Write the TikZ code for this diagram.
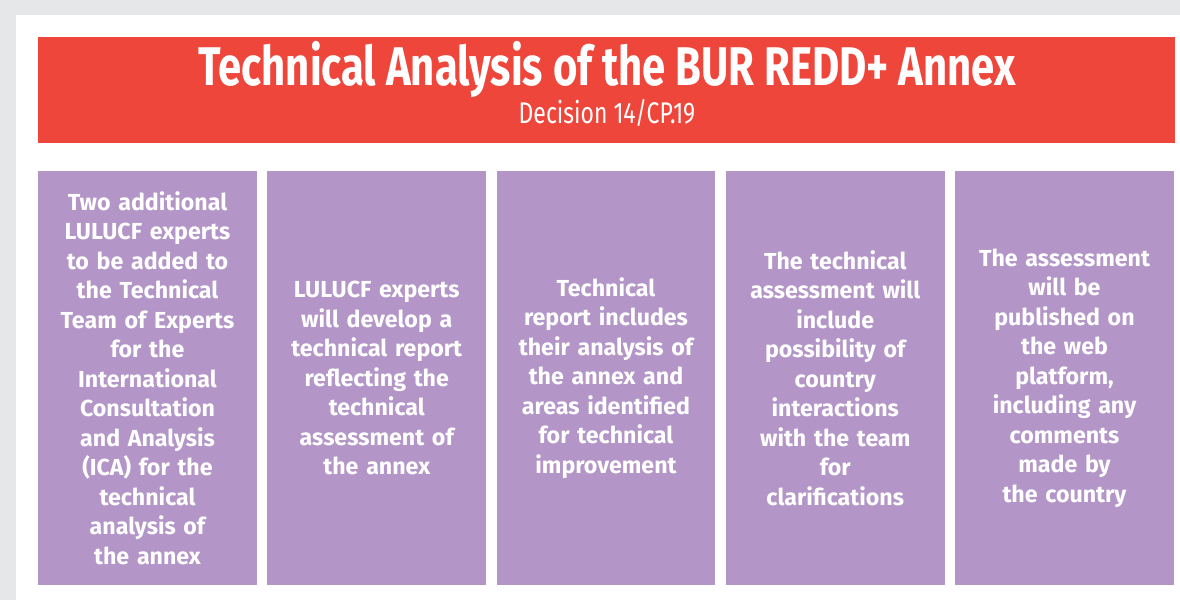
\documentclass[tikz,border=0pt]{standalone}
\usepackage{fontspec}
\setmainfont{Fira Sans}
\newfontfamily\narrowfont[FakeStretch=0.768]{Fira Sans}
\definecolor{pagegray}{HTML}{E6E7E8}
\definecolor{bannerred}{HTML}{EF463B}
\definecolor{cardpurple}{HTML}{B396C7}
\tikzset{
  card/.style={fill=cardpurple, text=white, minimum width=4.38cm, minimum height=8.28cm,
    text width=4.1cm, align=center, inner sep=0pt,
    font=\fontsize{13.2}{16.8}\selectfont\bfseries},
}
\begin{document}
\begin{tikzpicture}[x=0.02cm,y=-0.02cm]
  \useasboundingbox (0,0) rectangle (1180,600);
  \fill[pagegray] (0,0) rectangle (1180,600);
  \fill[white] (16,15) rectangle (1180,600);
  % banner
  \node[fill=bannerred, minimum width=22.74cm, minimum height=2.12cm, inner sep=0pt]
    (banner) at (606.5,90) {};
  \node[text=white, anchor=base, font=\narrowfont\fontsize{31}{31}\selectfont\bfseries]
    (title) at (607,85) {Technical Analysis of the BUR REDD+ Annex};
  \node[text=white, anchor=base, font=\narrowfont\fontsize{17}{17}\selectfont]
    (subtitle) at (607,123) {Decision 14/CP.19};
  % cards
  \node[card] (card1) at (147.5,378) {Two additional\\LULUCF experts\\to be added to\\the Technical\\Team of Experts\\for the\\International\\Consultation\\and Analysis\\(ICA) for the\\technical\\analysis of\\the annex};
  \node[card] (card2) at (376.75,378) {LULUCF experts\\will develop a\\technical report\\reflecting the\\technical\\assessment of\\the annex};
  \node[card] (card3) at (606,378) {Technical\\report includes\\their analysis of\\the annex and\\areas identified\\for technical\\improvement};
  \node[card] (card4) at (835.25,378) {The technical\\assessment will\\include\\possibility of\\country\\interactions\\with the team\\for\\clarifications};
  \node[card] (card5) at (1064.5,378) {The assessment\\will be\\published on\\the web\\platform,\\including any\\comments\\made by\\the country};
\end{tikzpicture}
\end{document}
